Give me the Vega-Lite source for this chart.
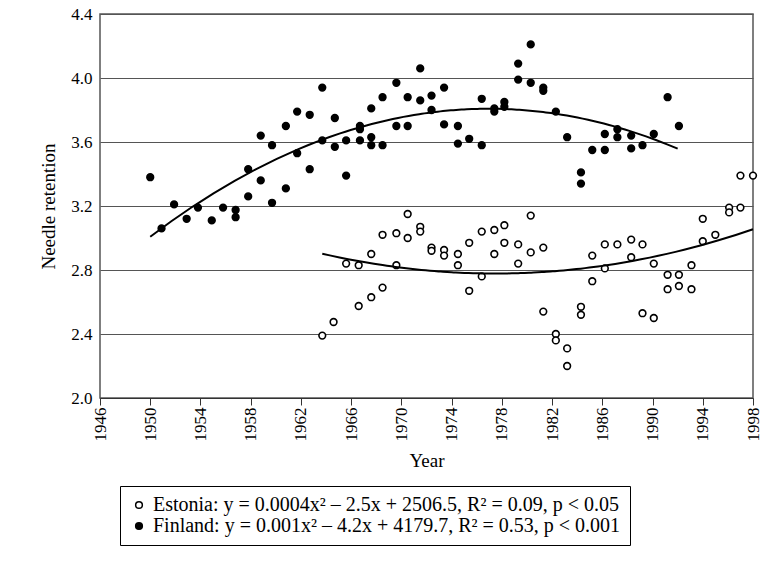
{
  "$schema": "https://vega.github.io/schema/vega-lite/v6.json",
  "width": 653,
  "height": 384,
  "autosize": "none",
  "padding": {"left": 100, "top": 14, "right": 8, "bottom": 180},
  "background": "white",
  "config": {
    "font": "Liberation Serif",
    "view": {"stroke": "#555", "strokeWidth": 1.5},
    "axis": {"labelFont": "Liberation Serif", "titleFont": "Liberation Serif", "labelFontSize": 17, "titleFontSize": 19, "labelColor": "black", "titleColor": "black", "titleFontWeight": "normal", "domainColor": "#333", "tickColor": "#333"}
  },
  "data": {
    "values": [
      {"series": "Finland", "year": 1950.0, "value": 3.38},
      {"series": "Finland", "year": 1950.9, "value": 3.06},
      {"series": "Finland", "year": 1951.9, "value": 3.21},
      {"series": "Finland", "year": 1952.9, "value": 3.12},
      {"series": "Finland", "year": 1953.8, "value": 3.19},
      {"series": "Finland", "year": 1954.9, "value": 3.11},
      {"series": "Finland", "year": 1955.8, "value": 3.19},
      {"series": "Finland", "year": 1956.8, "value": 3.175},
      {"series": "Finland", "year": 1956.8, "value": 3.13},
      {"series": "Finland", "year": 1957.8, "value": 3.26},
      {"series": "Finland", "year": 1957.8, "value": 3.43},
      {"series": "Finland", "year": 1958.8, "value": 3.36},
      {"series": "Finland", "year": 1958.8, "value": 3.64},
      {"series": "Finland", "year": 1959.7, "value": 3.22},
      {"series": "Finland", "year": 1959.7, "value": 3.58},
      {"series": "Finland", "year": 1960.8, "value": 3.31},
      {"series": "Finland", "year": 1960.8, "value": 3.70},
      {"series": "Finland", "year": 1961.7, "value": 3.53},
      {"series": "Finland", "year": 1961.7, "value": 3.79},
      {"series": "Finland", "year": 1962.7, "value": 3.43},
      {"series": "Finland", "year": 1962.7, "value": 3.77},
      {"series": "Finland", "year": 1963.7, "value": 3.94},
      {"series": "Finland", "year": 1963.7, "value": 3.61},
      {"series": "Finland", "year": 1964.7, "value": 3.57},
      {"series": "Finland", "year": 1964.7, "value": 3.75},
      {"series": "Finland", "year": 1965.6, "value": 3.39},
      {"series": "Finland", "year": 1965.6, "value": 3.61},
      {"series": "Finland", "year": 1966.7, "value": 3.68},
      {"series": "Finland", "year": 1966.7, "value": 3.61},
      {"series": "Finland", "year": 1966.7, "value": 3.70},
      {"series": "Finland", "year": 1967.6, "value": 3.81},
      {"series": "Finland", "year": 1967.6, "value": 3.63},
      {"series": "Finland", "year": 1967.6, "value": 3.58},
      {"series": "Finland", "year": 1968.5, "value": 3.88},
      {"series": "Finland", "year": 1968.5, "value": 3.58},
      {"series": "Finland", "year": 1969.6, "value": 3.97},
      {"series": "Finland", "year": 1969.6, "value": 3.70},
      {"series": "Finland", "year": 1970.5, "value": 3.88},
      {"series": "Finland", "year": 1970.5, "value": 3.70},
      {"series": "Finland", "year": 1971.5, "value": 4.06},
      {"series": "Finland", "year": 1971.5, "value": 3.86},
      {"series": "Finland", "year": 1972.4, "value": 3.89},
      {"series": "Finland", "year": 1972.4, "value": 3.80},
      {"series": "Finland", "year": 1973.4, "value": 3.94},
      {"series": "Finland", "year": 1973.4, "value": 3.71},
      {"series": "Finland", "year": 1974.5, "value": 3.70},
      {"series": "Finland", "year": 1974.5, "value": 3.59},
      {"series": "Finland", "year": 1975.4, "value": 3.62},
      {"series": "Finland", "year": 1976.4, "value": 3.87},
      {"series": "Finland", "year": 1976.4, "value": 3.58},
      {"series": "Finland", "year": 1977.4, "value": 3.81},
      {"series": "Finland", "year": 1977.4, "value": 3.79},
      {"series": "Finland", "year": 1978.2, "value": 3.85},
      {"series": "Finland", "year": 1978.2, "value": 3.82},
      {"series": "Finland", "year": 1979.3, "value": 4.09},
      {"series": "Finland", "year": 1979.3, "value": 3.99},
      {"series": "Finland", "year": 1980.3, "value": 4.21},
      {"series": "Finland", "year": 1980.3, "value": 3.97},
      {"series": "Finland", "year": 1981.3, "value": 3.94},
      {"series": "Finland", "year": 1981.3, "value": 3.92},
      {"series": "Finland", "year": 1982.3, "value": 3.79},
      {"series": "Finland", "year": 1983.2, "value": 3.63},
      {"series": "Finland", "year": 1984.3, "value": 3.41},
      {"series": "Finland", "year": 1984.3, "value": 3.34},
      {"series": "Finland", "year": 1985.2, "value": 3.55},
      {"series": "Finland", "year": 1986.2, "value": 3.65},
      {"series": "Finland", "year": 1986.2, "value": 3.55},
      {"series": "Finland", "year": 1987.2, "value": 3.68},
      {"series": "Finland", "year": 1987.2, "value": 3.63},
      {"series": "Finland", "year": 1988.3, "value": 3.64},
      {"series": "Finland", "year": 1988.3, "value": 3.56},
      {"series": "Finland", "year": 1989.2, "value": 3.58},
      {"series": "Finland", "year": 1990.1, "value": 3.65},
      {"series": "Finland", "year": 1991.2, "value": 3.88},
      {"series": "Finland", "year": 1992.1, "value": 3.70},
      {"series": "Estonia", "year": 1963.7, "value": 2.39},
      {"series": "Estonia", "year": 1964.6, "value": 2.475},
      {"series": "Estonia", "year": 1965.6, "value": 2.84},
      {"series": "Estonia", "year": 1966.6, "value": 2.83},
      {"series": "Estonia", "year": 1966.6, "value": 2.575},
      {"series": "Estonia", "year": 1967.6, "value": 2.90},
      {"series": "Estonia", "year": 1967.6, "value": 2.63},
      {"series": "Estonia", "year": 1968.5, "value": 3.02},
      {"series": "Estonia", "year": 1968.5, "value": 2.69},
      {"series": "Estonia", "year": 1969.6, "value": 3.03},
      {"series": "Estonia", "year": 1969.6, "value": 2.83},
      {"series": "Estonia", "year": 1970.5, "value": 3.15},
      {"series": "Estonia", "year": 1970.5, "value": 3.00},
      {"series": "Estonia", "year": 1971.5, "value": 3.07},
      {"series": "Estonia", "year": 1971.5, "value": 3.04},
      {"series": "Estonia", "year": 1972.4, "value": 2.94},
      {"series": "Estonia", "year": 1972.4, "value": 2.92},
      {"series": "Estonia", "year": 1973.4, "value": 2.925},
      {"series": "Estonia", "year": 1973.4, "value": 2.89},
      {"series": "Estonia", "year": 1974.5, "value": 2.90},
      {"series": "Estonia", "year": 1974.5, "value": 2.83},
      {"series": "Estonia", "year": 1975.4, "value": 2.97},
      {"series": "Estonia", "year": 1975.4, "value": 2.67},
      {"series": "Estonia", "year": 1976.4, "value": 3.04},
      {"series": "Estonia", "year": 1976.4, "value": 2.76},
      {"series": "Estonia", "year": 1977.4, "value": 3.05},
      {"series": "Estonia", "year": 1977.4, "value": 2.90},
      {"series": "Estonia", "year": 1978.2, "value": 3.08},
      {"series": "Estonia", "year": 1978.2, "value": 2.97},
      {"series": "Estonia", "year": 1979.3, "value": 2.96},
      {"series": "Estonia", "year": 1979.3, "value": 2.84},
      {"series": "Estonia", "year": 1980.3, "value": 3.14},
      {"series": "Estonia", "year": 1980.3, "value": 2.91},
      {"series": "Estonia", "year": 1981.3, "value": 2.94},
      {"series": "Estonia", "year": 1981.3, "value": 2.54},
      {"series": "Estonia", "year": 1982.3, "value": 2.40},
      {"series": "Estonia", "year": 1982.3, "value": 2.36},
      {"series": "Estonia", "year": 1983.2, "value": 2.31},
      {"series": "Estonia", "year": 1983.2, "value": 2.20},
      {"series": "Estonia", "year": 1984.3, "value": 2.57},
      {"series": "Estonia", "year": 1984.3, "value": 2.52},
      {"series": "Estonia", "year": 1985.2, "value": 2.89},
      {"series": "Estonia", "year": 1985.2, "value": 2.73},
      {"series": "Estonia", "year": 1986.2, "value": 2.96},
      {"series": "Estonia", "year": 1986.2, "value": 2.81},
      {"series": "Estonia", "year": 1987.2, "value": 2.96},
      {"series": "Estonia", "year": 1988.3, "value": 2.99},
      {"series": "Estonia", "year": 1988.3, "value": 2.88},
      {"series": "Estonia", "year": 1989.2, "value": 2.96},
      {"series": "Estonia", "year": 1989.2, "value": 2.53},
      {"series": "Estonia", "year": 1990.1, "value": 2.84},
      {"series": "Estonia", "year": 1990.1, "value": 2.50},
      {"series": "Estonia", "year": 1991.2, "value": 2.77},
      {"series": "Estonia", "year": 1991.2, "value": 2.68},
      {"series": "Estonia", "year": 1992.1, "value": 2.77},
      {"series": "Estonia", "year": 1992.1, "value": 2.70},
      {"series": "Estonia", "year": 1993.1, "value": 2.83},
      {"series": "Estonia", "year": 1993.1, "value": 2.68},
      {"series": "Estonia", "year": 1994.0, "value": 3.12},
      {"series": "Estonia", "year": 1994.0, "value": 2.98},
      {"series": "Estonia", "year": 1995.0, "value": 3.02},
      {"series": "Estonia", "year": 1996.1, "value": 3.19},
      {"series": "Estonia", "year": 1996.1, "value": 3.16},
      {"series": "Estonia", "year": 1997.0, "value": 3.39},
      {"series": "Estonia", "year": 1997.0, "value": 3.19},
      {"series": "Estonia", "year": 1998.0, "value": 3.39}
    ]
  },
  "encoding": {
    "x": {
      "field": "year", "type": "quantitative", "title": "Year",
      "scale": {"domain": [1946, 1998], "nice": false, "zero": false},
      "axis": {"values": [1946, 1950, 1954, 1958, 1962, 1966, 1970, 1974, 1978, 1982, 1986, 1990, 1994, 1998], "format": "d", "labelAngle": -90, "grid": false, "tickSize": 7, "titlePadding": 10}
    },
    "y": {
      "field": "value", "type": "quantitative", "title": "Needle retention",
      "scale": {"domain": [2.0, 4.4], "nice": false, "zero": false},
      "axis": {"values": [2.0, 2.4, 2.8, 3.2, 3.6, 4.0, 4.4], "format": ".1f", "grid": true, "gridColor": "#555", "gridWidth": 1, "ticks": false, "domain": false, "labelPadding": 8, "titlePadding": 12}
    }
  },
  "layer": [
    {
      "mark": {"type": "point", "size": 45, "strokeWidth": 1.6, "stroke": "black", "opacity": 1},
      "encoding": {
        "fill": {
          "field": "series", "type": "nominal",
          "scale": {"domain": ["Estonia", "Finland"], "range": ["white", "black"]},
          "legend": {
            "title": null, "orient": "none", "legendX": 20, "legendY": 472, "direction": "vertical",
            "strokeColor": "black", "padding": 9, "labelFont": "Liberation Serif", "labelFontSize": 20,
            "labelColor": "black", "symbolStrokeColor": "black", "symbolStrokeWidth": 1.5, "symbolSize": 45,
            "rowPadding": 1, "labelLimit": 700, "offset": 0,
            "labelExpr": "datum.label == 'Estonia' ? '   Estonia: y = 0.0004x² – 2.5x + 2506.5, R² = 0.09, p < 0.05' : '   Finland: y = 0.001x² – 4.2x + 4179.7, R² = 0.53, p < 0.001'"
          }
        }
      }
    },
    {
      "transform": [
        {"filter": "datum.series == 'Finland'"},
        {"regression": "value", "on": "year", "method": "poly", "order": 2, "extent": [1950, 1992]}
      ],
      "mark": {"type": "line", "color": "black", "strokeWidth": 2}
    },
    {
      "transform": [
        {"filter": "datum.series == 'Estonia'"},
        {"regression": "value", "on": "year", "method": "poly", "order": 2, "extent": [1963.7, 1998]}
      ],
      "mark": {"type": "line", "color": "black", "strokeWidth": 2}
    }
  ]
}
